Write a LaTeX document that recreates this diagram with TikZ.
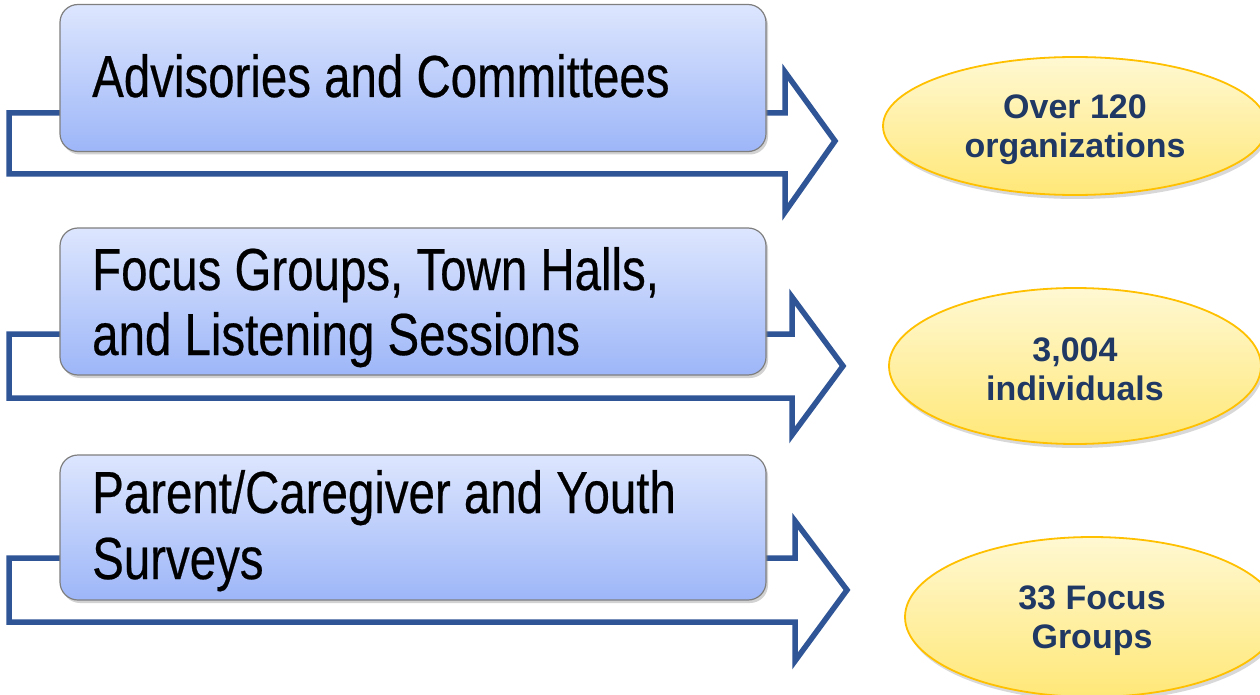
\documentclass[tikz,border=0pt]{standalone}
\usepackage{fontspec}
\setmainfont{Liberation Sans}
\newfontfamily\boxfont{Liberation Sans}[FakeStretch=0.8,FakeBold=0.4]
\usetikzlibrary{shapes.geometric,shadows}
\definecolor{arrowblue}{HTML}{2F5597}
\definecolor{boxtop}{HTML}{DDE6FE}
\definecolor{boxbot}{HTML}{9DB6F8}
\definecolor{boxline}{HTML}{7F7F7F}
\definecolor{elltop}{HTML}{FFF8D2}
\definecolor{ellbot}{HTML}{FFE878}
\definecolor{ellline}{HTML}{FFC000}
\definecolor{navy}{HTML}{1F3864}
\begin{document}
\begin{tikzpicture}[x=1pt,y=-1pt,
  blockarrow/.style={draw=arrowblue, line width=5.5pt, fill=white, miter limit=10},
  stagebox/.style={rectangle, rounded corners=18pt, draw=boxline, line width=1.2pt,
    top color=boxtop, bottom color=boxbot, minimum width=706pt, inner sep=0pt,
    drop shadow={opacity=0.35, shadow xshift=2pt, shadow yshift=-3pt}},
  stagetext/.style={anchor=base west, inner sep=0pt,
    font=\boxfont\fontsize{59.3}{65}\selectfont, text=black},
  result/.style={ellipse, draw=ellline, line width=1.8pt, top color=elltop,
    bottom color=ellbot, inner sep=0pt,
    drop shadow={opacity=0.3, shadow xshift=2pt, shadow yshift=-4pt}},
  resulttext/.style={inner sep=0pt, align=center, text=navy,
    font=\bfseries\fontsize{34}{39}\selectfont},
]
\useasboundingbox (0,0) rectangle (1260,695);
\fill[white] (0,0) rectangle (1260,695);

% block arrows
\draw[blockarrow] (9,113) -- (785,113) -- (785,72) -- (835,141) -- (785,212)
  -- (785,174) -- (9,174) -- cycle;
\draw[blockarrow] (9,334) -- (792,334) -- (792,297) -- (843,366) -- (792,435)
  -- (792,398) -- (9,398) -- cycle;
\draw[blockarrow] (9,558) -- (795,558) -- (795,521) -- (847,590) -- (795,661)
  -- (795,622) -- (9,622) -- cycle;

% boxes
\node[stagebox, minimum height=147pt] (box1) at (413,78) {};
\node[stagebox, minimum height=147pt] (box2) at (413,301.5) {};
\node[stagebox, minimum height=145pt] (box3) at (413,527.5) {};

\node[stagetext] (t1) at (92,97) {Advisories and Committees};
\node[stagetext] (t2a) at (92,290) {Focus Groups, Town Halls,};
\node[stagetext] (t2b) at (92,355) {and Listening Sessions};
\node[stagetext] (t3a) at (92,513) {Parent/Caregiver and Youth};
\node[stagetext] (t3b) at (92,579) {Surveys};

% results
\node[result, minimum width=384pt, minimum height=138pt] (e1) at (1075,126) {};
\node[result, minimum width=372pt, minimum height=156pt] (e2) at (1075,366) {};
\node[result, minimum width=374pt, minimum height=160pt] (e3) at (1092,617) {};
\node[resulttext] (l1) at ([yshift=-4pt]e1.center) {Over 120\\organizations};
\node[resulttext] (l2) at ([yshift=-3pt]e2.center) {3,004\\individuals};
\node[resulttext] (l3) at ([yshift=-4pt]e3.center) {33 Focus\\Groups};
\end{tikzpicture}
\end{document}
